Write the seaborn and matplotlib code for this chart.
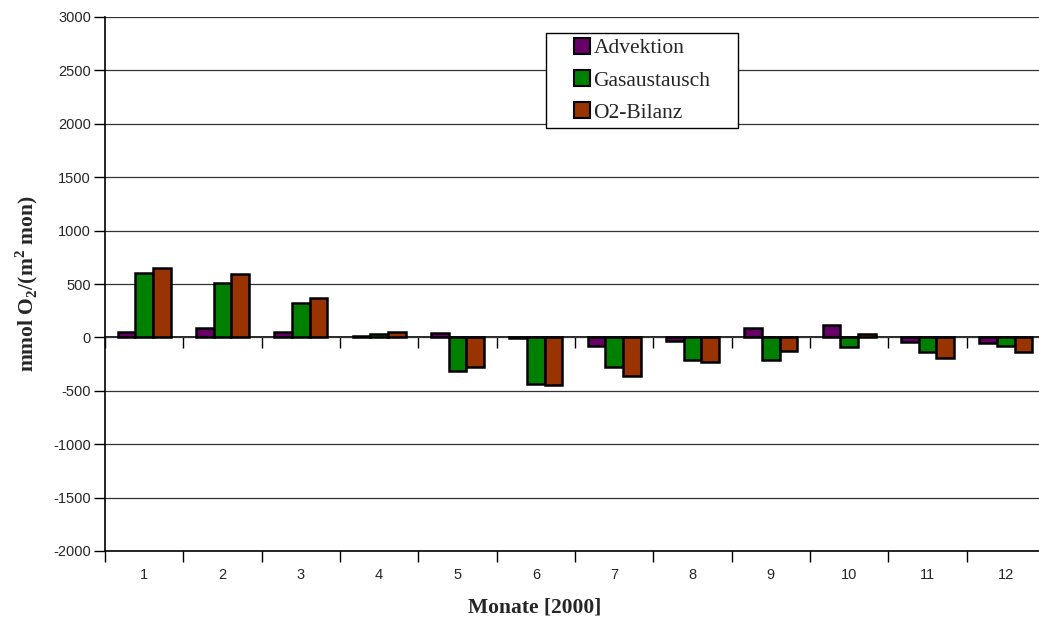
import matplotlib
matplotlib.use("Agg")
import matplotlib.pyplot as plt
import seaborn as sns
import pandas as pd
import numpy as np
from matplotlib.ticker import FixedLocator, NullFormatter
from matplotlib.patches import Rectangle

months = [str(m) for m in range(1, 13)]
series_names = ["Advektion", "Gasaustausch", "O2-Bilanz"]
advektion = [50, 84, 50, 15, 40, -10, -78, -32, 84, 115, -41, -53]
gasaustausch = [600, 512, 325, 35, -318, -437, -281, -210, -210, -88, -140, -78]
o2_bilanz = [646, 593, 365, 50, -278, -447, -360, -234, -125, 31, -194, -137]
colors = ["#660066", "#008000", "#993300"]
y_ticks = list(range(-2000, 3001, 500))

df = pd.DataFrame({
    "Monat": months * 3,
    "Serie": np.repeat(series_names, len(months)),
    "Wert": advektion + gasaustausch + o2_bilanz,
})

sns.set_style("white")
plt.rcParams["font.family"] = ["Liberation Sans", "DejaVu Sans"]
plt.rcParams["axes.unicode_minus"] = False

fig = plt.figure(figsize=(10.39, 6.18), dpi=100)
ax = fig.add_axes([105 / 1039, 67 / 618, 940 / 1039, 534 / 618])

sns.barplot(data=df, x="Monat", y="Wert", hue="Serie", palette=colors,
            width=0.68, gap=0, edgecolor="black", linewidth=1.8,
            saturation=1, ax=ax, legend=True)

ax.set_xlim(-0.5, 11.5)
ax.set_ylim(-2000, 3000)
ax.set_yticks(y_ticks)
ax.yaxis.grid(True, color="#333333", linewidth=0.9)
ax.set_axisbelow(True)
ax.tick_params(axis="y", direction="out", length=8, width=1, color="black",
               labelsize=10.5, pad=2, left=True)
ax.tick_params(axis="x", which="major", length=0, labelsize=10.5, pad=12)
ax.xaxis.set_minor_locator(FixedLocator(np.arange(-0.5, 12, 1)))
ax.tick_params(axis="x", which="minor", direction="out", length=8, width=1,
               color="black", bottom=True)

for s in ["top", "right"]:
    ax.spines[s].set_visible(False)
ax.spines["left"].set_color("black")
ax.spines["left"].set_linewidth(1.2)
ax.spines["bottom"].set_color("black")
ax.spines["bottom"].set_linewidth(1.2)

# zero line with category separators
sec = ax.secondary_xaxis(0.4)
sec.xaxis.set_major_locator(FixedLocator(np.arange(-0.5, 12, 1)))
sec.xaxis.set_major_formatter(NullFormatter())
sec.tick_params(axis="x", direction="out", length=8, width=1, color="black")
sec.spines["bottom"].set_color("black")
sec.spines["bottom"].set_linewidth(1.2)

serif = ["Liberation Serif", "DejaVu Serif"]
ax.set_xlabel("Monate [2000]", fontsize=15.5, fontweight="bold", family=serif)
ax.xaxis.set_label_coords(0.457, -0.088)
ax.set_ylabel(r"mmol O$_\mathregular{2}$/(m$^\mathregular{2}$ mon)", fontsize=15.5,
              fontweight="bold", family=serif)
ax.yaxis.set_label_coords(-0.0695, 0.5)

leg = ax.legend(loc="upper left", bbox_to_anchor=(574 / 1039, 1 - 38 / 618),
                bbox_transform=fig.transFigure, title=None, frameon=False,
                borderpad=0, handlelength=0.75, handleheight=0.75,
                handletextpad=0.15, labelspacing=0.55, borderaxespad=0,
                prop={"family": serif, "size": 15.5})
for h in leg.legend_handles:
    h.set_edgecolor("black")
    h.set_linewidth(1.5)
leg.set_zorder(6)

# legend frame, padded wider than the legend itself
fig.canvas.draw()
bb = leg.get_window_extent()
pad_x, pad_y = 28, 5
ax.add_patch(Rectangle((bb.x0 - pad_x, bb.y0 - pad_y),
                       bb.width + 2 * pad_x, bb.height + 2 * pad_y,
                       transform=None, facecolor="white", clip_on=False,
                       edgecolor="black", linewidth=1.0, zorder=5))

fig.savefig("out.png", dpi=100)
